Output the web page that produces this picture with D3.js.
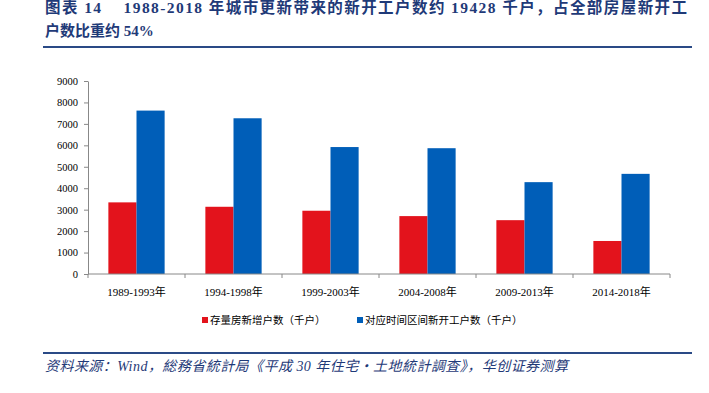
<!DOCTYPE html>
<html>
<head>
<meta charset="utf-8">
<script src="https://cdn.jsdelivr.net/npm/d3@7"></script>
<style>
  body { margin: 0; background: #fff; }
  svg { display: block; }
</style>
</head>
<body>
<svg id="chart" width="709" height="393"></svg>
<script>
// periods and the two series (thousand households)
var periods = ['1989-1993年', '1994-1998年', '1999-2003年', '2004-2008年', '2009-2013年', '2014-2018年'];
var stockNew = [3340, 3135, 2950, 2700, 2510, 1540];
var newStarts = [7620, 7262, 5920, 5866, 4283, 4670];
var seriesNames = ['存量房新增户数（千户）', '对应时间区间新开工户数（千户）'];
var yTicks = [0, 1000, 2000, 3000, 4000, 5000, 6000, 7000, 8000, 9000];

var titleLine1 = '图表 14\u00a0\u00a0\u00a0\u00a01988-2018 年城市更新带来的新开工户数约 19428 千户，占全部房屋新开工';
var titleLine2 = '户数比重约 54%';
var sourceText = '资料来源：Wind，総務省統計局《平成 30 年住宅・土地統計調査》，华创证券测算';

var colors = ['#e3131c', '#005eb8'];
var navy = '#1f3a78';
var serif = '"Liberation Serif", "Times New Roman", "Noto Sans CJK SC", serif';

var svg = d3.select('#chart');

// header
svg.append('text')
    .attr('x', 45).attr('y', 13)
    .attr('textLength', 642).attr('lengthAdjust', 'spacing')
    .style('font-family', serif).style('font-size', '15.5px').style('font-weight', 'bold')
    .style('fill', navy)
    .text(titleLine1);
svg.append('text')
    .attr('x', 45).attr('y', 36)
    .style('font-family', serif).style('font-size', '15px').style('font-weight', 'bold')
    .style('fill', navy)
    .text(titleLine2);
svg.append('line')
    .attr('x1', 43).attr('x2', 692).attr('y1', 47).attr('y2', 47)
    .style('stroke', '#2a4a86').style('stroke-width', 2);

// plot area
var plotL = 88, plotR = 670, plotT = 81, plotB = 274;

var x = d3.scaleBand().domain(periods).range([plotL, plotR]).padding(0);
var bw = x.bandwidth();
var xSub = d3.scaleBand().domain([0, 1]).range([bw * 0.21, bw * 0.79]).padding(0);
var y = d3.scaleLinear().domain([0, 9000]).range([plotB, plotT]);

var rows = periods.map(function(p, i) { return {period: p, values: [stockNew[i], newStarts[i]]}; });

var groups = svg.append('g').selectAll('g')
    .data(rows).enter().append('g')
    .attr('transform', function(d) { return 'translate(' + x(d.period) + ',0)'; });
groups.selectAll('rect')
    .data(function(d) { return d.values.map(function(v, k) { return {k: k, v: v}; }); })
    .enter().append('rect')
    .attr('x', function(d) { return xSub(d.k); })
    .attr('width', xSub.bandwidth())
    .attr('y', function(d) { return y(d.v); })
    .attr('height', function(d) { return plotB - y(d.v); })
    .style('fill', function(d) { return colors[d.k]; });

// y axis
var yAxis = d3.axisLeft(y).tickValues(yTicks).tickFormat(d3.format('d'))
    .tickSize(4).tickPadding(6).tickSizeOuter(0);
var gy = svg.append('g').attr('transform', 'translate(' + plotL + ',0)').call(yAxis);
gy.selectAll('text').style('font-family', serif).style('font-size', '10.5px').style('fill', '#000');
gy.selectAll('line, path').style('stroke', '#888');

// x axis: ticks sit on the band edges
var edges = periods.map(function(p) { return x(p); }).concat([plotR]);
var gx = svg.append('g');
gx.append('line')
    .attr('x1', plotL).attr('x2', plotR).attr('y1', plotB).attr('y2', plotB)
    .style('stroke', '#888');
gx.selectAll('line.tick').data(edges).enter().append('line')
    .attr('class', 'tick')
    .attr('x1', function(d) { return d; }).attr('x2', function(d) { return d; })
    .attr('y1', plotB).attr('y2', plotB + 4)
    .style('stroke', '#888');
gx.selectAll('text').data(periods).enter().append('text')
    .attr('x', function(d) { return x(d) + bw / 2; })
    .attr('y', 296)
    .attr('text-anchor', 'middle')
    .style('font-family', serif).style('font-size', '11px')
    .text(function(d) { return d; });

// legend
var legendX = [202, 357];
var legend = svg.append('g').selectAll('g')
    .data(seriesNames).enter().append('g')
    .attr('transform', function(d, i) { return 'translate(' + legendX[i] + ',320)'; });
legend.append('rect')
    .attr('x', 0).attr('y', -3).attr('width', 6).attr('height', 6)
    .style('fill', function(d, i) { return colors[i]; });
legend.append('text')
    .attr('x', 8).attr('y', 4)
    .style('font-family', serif).style('font-size', '10.5px')
    .text(function(d) { return d; });

// footer
svg.append('line')
    .attr('x1', 43).attr('x2', 692).attr('y1', 353).attr('y2', 353)
    .style('stroke', '#2a4a86').style('stroke-width', 2);
svg.append('text')
    .attr('x', 45).attr('y', 371)
    .attr('textLength', 523).attr('lengthAdjust', 'spacing')
    .style('font-family', serif).style('font-size', '14px').style('font-style', 'italic')
    .style('fill', navy)
    .text(sourceText);
</script>
</body>
</html>
